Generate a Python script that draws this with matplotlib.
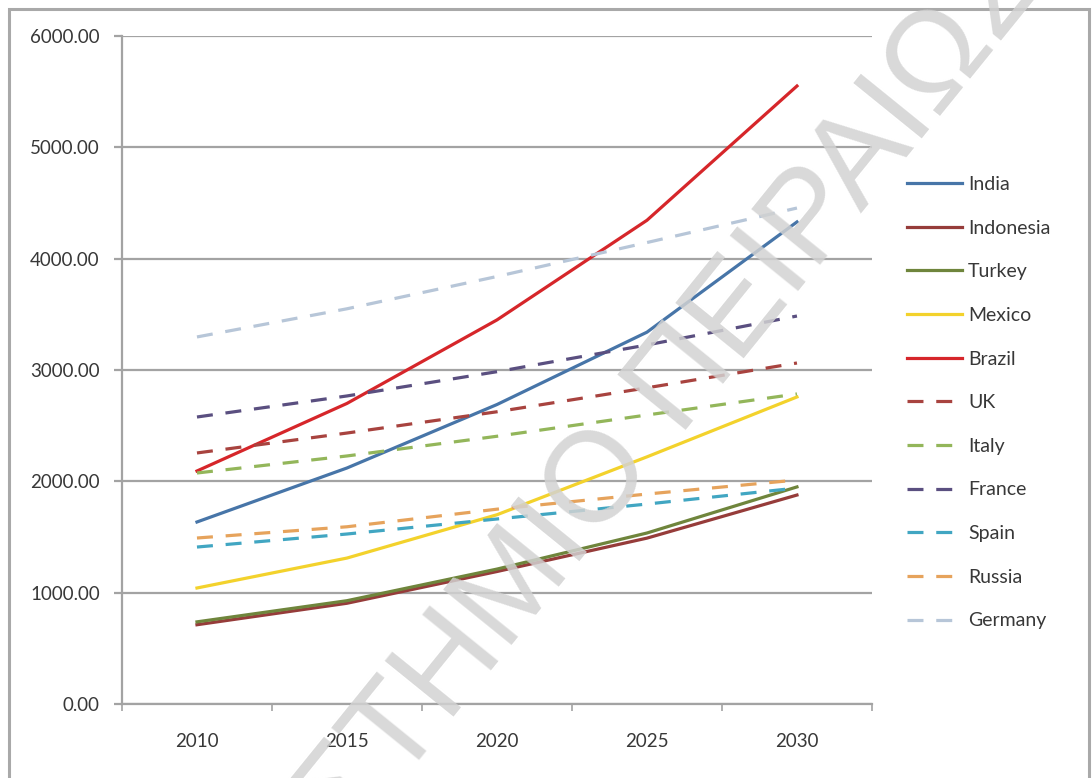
import matplotlib
matplotlib.use("Agg")
import matplotlib.pyplot as plt
from matplotlib.patches import Rectangle
from matplotlib.ticker import FormatStrFormatter
import numpy as np

plt.rcParams['font.family'] = ['Lato', 'DejaVu Sans']

years = ['2010', '2015', '2020', '2025', '2030']

india = [1635, 2120, 2690, 3340, 4330]
indonesia = [712, 905, 1190, 1490, 1877]
turkey = [738, 928, 1212, 1536, 1950]
mexico = [1042, 1311, 1700, 2220, 2758]
brazil = [2093, 2700, 3450, 4345, 5551]
uk = [2255, 2434, 2625, 2840, 3063]
italy = [2075, 2228, 2405, 2596, 2785]
france = [2578, 2767, 2985, 3225, 3485]
spain = [1410, 1527, 1662, 1796, 1940]
russia = [1491, 1592, 1750, 1886, 2012]
germany = [3297, 3550, 3840, 4145, 4455]

series = [
    ('India', india, '#4775a8', '-'),
    ('Indonesia', indonesia, '#963c3a', '-'),
    ('Turkey', turkey, '#6f853c', '-'),
    ('Mexico', mexico, '#f3d22c', '-'),
    ('Brazil', brazil, '#d6262a', '-'),
    ('UK', uk, '#a8433f', '--'),
    ('Italy', italy, '#93b65a', '--'),
    ('France', france, '#5a4f80', '--'),
    ('Spain', spain, '#41a6c2', '--'),
    ('Russia', russia, '#e6a35c', '--'),
    ('Germany', germany, '#b7c6d8', '--'),
]

fig = plt.figure(figsize=(10.92, 7.78), dpi=100)
ax = fig.add_axes([0.1117, 0.0951, 0.6868, 0.8586])

x = np.arange(len(years))
handles = []
for name, vals, col, ls in series:
    if ls == '--':
        ln, = ax.plot(x, vals, color=col, lw=2.3, dashes=(5, 4), label=name,
                      dash_capstyle='butt')
    else:
        ln, = ax.plot(x, vals, color=col, lw=2.3, label=name)
    handles.append(ln)

ax.set_xlim(-0.5, len(years) - 0.5)
ax.set_ylim(0, 6000)
ax.set_yticks(range(0, 6001, 1000))
ax.yaxis.set_major_formatter(FormatStrFormatter('%.2f'))
ax.set_xticks(x)
ax.set_xticklabels(years)
ax.set_xticks(np.arange(-0.5, len(years), 1), minor=True)

ax.grid(axis='y', color='#a3a3a3', lw=1.6)
ax.set_axisbelow(True)
for side in ['top', 'right']:
    ax.spines[side].set_visible(False)
for side in ['left', 'bottom']:
    ax.spines[side].set_color('#a3a3a3')
    ax.spines[side].set_linewidth(1.6)

ax.tick_params(axis='x', which='major', length=0, pad=21, labelsize=13.5,
               labelcolor='#383838')
ax.tick_params(axis='x', which='minor', length=5, width=1.2, color='#a3a3a3',
               direction='out')
ax.tick_params(axis='y', length=6, width=1.6, color='#a3a3a3', pad=10,
               labelsize=13.5, labelcolor='#383838')

leg = ax.legend(handles=handles, loc='upper left',
                bbox_to_anchor=(907 / 1092, 1 - 176 / 778),
                bbox_transform=fig.transFigure, frameon=False,
                borderpad=0, borderaxespad=0, fontsize=14,
                handlelength=2.83, handletextpad=0.31, labelspacing=1.37)
for t in leg.get_texts():
    t.set_color('#383838')

# outer chart border
fig.patches.append(Rectangle((9 / 1092, -0.05), (1089 - 9) / 1092, 1.038,
                             transform=fig.transFigure, fill=False,
                             edgecolor='#a9a9a9', lw=2.2))

# watermark
fig.text(0.5, 0.225, 'ΠΑΝΕΠΙΣΤΗΜΙΟ ΠΕΙΡΑΙΩΣ', rotation=51,
         rotation_mode='anchor', ha='center', va='baseline', fontsize=92,
         color='#d2d2d2', alpha=0.85, family=['Liberation Sans', 'DejaVu Sans'],
         zorder=10)

fig.savefig('out.png', dpi=100)
